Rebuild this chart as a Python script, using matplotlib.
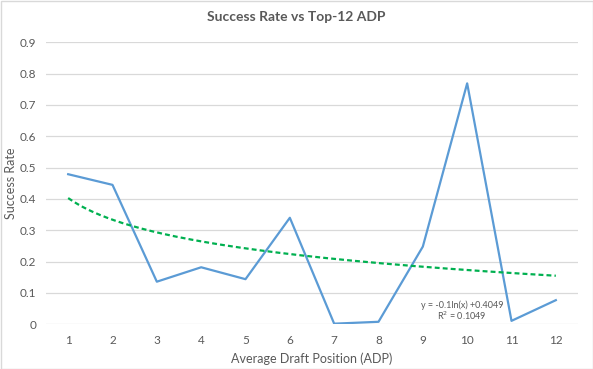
import numpy as np
import matplotlib
matplotlib.use("Agg")
import matplotlib.pyplot as plt
from matplotlib.patches import Rectangle

adp = [1, 2, 3, 4, 5, 6, 7, 8, 9, 10, 11, 12]
success_rate = [0.479, 0.445, 0.136, 0.182, 0.144, 0.340, 0.002, 0.008, 0.248, 0.769, 0.011, 0.077]
y_ticks = [0, 0.1, 0.2, 0.3, 0.4, 0.5, 0.6, 0.7, 0.8, 0.9]
y_tick_labels = ["0", "0.1", "0.2", "0.3", "0.4", "0.5", "0.6", "0.7", "0.8", "0.9"]
eq_text = "y = -0.1ln(x) +0.4049"
r2_text = "R$^2$ = 0.1049"

plt.rcParams['font.family'] = ['Lato', 'DejaVu Sans']
grey = "#595959"

fig = plt.figure(figsize=(5.93, 3.69), dpi=100)
ax = fig.add_axes([46/593, 1-324.3/369, (578-46)/593, (324.3-42.3)/369])

x = np.array(adp, dtype=float)
y = np.array(success_rate)
a, b = np.polyfit(np.log(x), y, 1)
xs = np.linspace(1, 12, 200)

ax.plot(x, y, color="#5B9BD5", lw=1.6, zorder=3)
ax.plot(xs, a*np.log(xs)+b, color="#00B050", lw=1.6, ls=(0, (2.2, 1.4)), zorder=4)

ax.set_xlim(0.5, 12.5)
ax.set_ylim(0, 0.9)
ax.set_yticks(y_ticks)
ax.set_yticklabels(y_tick_labels)
ax.set_xticks(adp)
ax.set_xticklabels([str(v) for v in adp])
ax.tick_params(length=0, labelsize=8.5, colors=grey, pad=8)
ax.tick_params(axis='y', pad=7)
for s in ax.spines.values():
    s.set_visible(False)
ax.grid(axis='y', color="#D9D9D9", lw=0.9)
ax.set_axisbelow(True)

ax.set_xlabel("Average Draft Position (ADP)", fontsize=9, color=grey, labelpad=4)
fig.text(11/593, 1-183/369, "Success Rate", rotation=90, ha='center', va='center',
         fontsize=9, color=grey)

fig.text(296/593, 1-17/369, "Success Rate vs Top-12 ADP", ha='center', va='center',
         fontsize=10, fontweight='bold', color=grey)

fig.text(462/593, 1-305/369, eq_text, ha='center', va='center', fontsize=6.5, color=grey)
fig.text(462/593, 1-316/369, r2_text, ha='center', va='center', fontsize=6.5, color=grey)

fig.patches.append(Rectangle((0.5/593, 0.5/369), 1-1/593, 1-1/369, transform=fig.transFigure,
                             fill=False, edgecolor="#D9D9D9", lw=1))

fig.savefig("out.png", dpi=100, facecolor="white")
